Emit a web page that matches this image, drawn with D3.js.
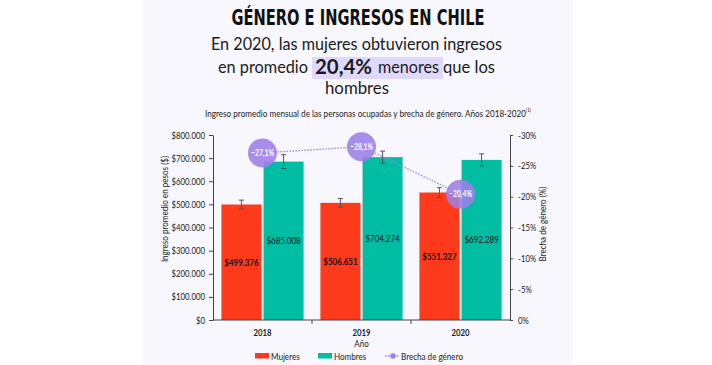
<!DOCTYPE html>
<html lang="es">
<head>
<meta charset="UTF-8">
<title>Género e ingresos en Chile</title>
<script src="https://cdnjs.cloudflare.com/ajax/libs/d3/7.8.5/d3.min.js"></script>
<style>
  body { margin: 0; background: #fff; }
  svg text { font-family: Lato, "Open Sans", sans-serif; }
</style>
</head>
<body>
<div id="chart"></div>
<script>
// data
var years = ["2018", "2019", "2020"];
var series = ["Mujeres", "Hombres"];
var mujeres = [499376, 506651, 551327];
var hombres = [685008, 704274, 692289];
var errMujeres = [19000, 19000, 21000];
var errHombres = [30000, 26000, 26000];
var brecha = [-27.1, -28.1, -20.4];
var incomeTicks = [0, 100000, 200000, 300000, 400000, 500000, 600000, 700000, 800000];
var gapTicks = [0, -5, -10, -15, -20, -25, -30];

var colors = { Mujeres: "#fe3a1c", Hombres: "#01bda3" };
var purple = "#9c7fe7";

var W = 712, H = 365;
var svg = d3.select("#chart").append("svg").attr("width", W).attr("height", H);

// squeeze text horizontally (the original uses a condensed face)
function cond(sel, k) {
  sel.each(function() {
    var w = this.getComputedTextLength();
    d3.select(this).attr("textLength", w * k).attr("lengthAdjust", "spacingAndGlyphs");
  });
}

// lavender panel
svg.append("rect").attr("x", 143).attr("y", 0).attr("width", 430).attr("height", H).attr("fill", "#f8f7fd");

// headings
svg.append("text").attr("x", 358).attr("y", 25).attr("text-anchor", "middle")
  .attr("font-size", 22).attr("font-weight", 900).attr("fill", "#111")
  .attr("textLength", 253).attr("lengthAdjust", "spacingAndGlyphs")
  .style("font-family", "'DejaVu Sans', sans-serif")
  .text("GÉNERO E INGRESOS EN CHILE");

var sub = function(x, y, t, len, bold, size) {
  return svg.append("text").attr("x", x).attr("y", y)
    .attr("font-size", size || 17).attr("font-weight", bold ? 700 : 400).attr("fill", "#1a1a1a")
    .attr("textLength", len).attr("lengthAdjust", "spacingAndGlyphs")
    .text(t);
};
sub(211, 50, "En 2020, las mujeres obtuvieron ingresos", 291);
svg.append("rect").attr("x", 312).attr("y", 57).attr("width", 131).attr("height", 22).attr("fill", "#e0d8fa");
sub(218, 73, "en promedio", 90);
sub(315, 74, "20,4%", 57, true, 21);
sub(378, 73, "menores", 61);
sub(443, 73, "que los", 52);
sub(325, 94, "hombres", 64);

var cap = svg.append("text").attr("x", 205).attr("y", 117).attr("font-size", 10).attr("fill", "#222")
  .attr("textLength", 326).attr("lengthAdjust", "spacingAndGlyphs");
cap.append("tspan").text("Ingreso promedio mensual de las personas ocupadas y brecha de género. Años 2018-2020");
cap.append("tspan").attr("font-size", 5.5).attr("dy", -5).text("(1)");

// scales
var left = 213, right = 510, plotTop = 135, bottom = 320;
var x = d3.scaleBand().domain(years).range([left, right]).padding(0);
var x1 = d3.scaleBand().domain(series).range([0, x.bandwidth()]).paddingInner(0.05).paddingOuter(0.2);
var y = d3.scaleLinear().domain([0, 800000]).range([bottom, plotTop]);
var y2 = d3.scaleLinear().domain([0, -30]).range([bottom, plotTop]);

var money = function(v) { return "$" + d3.format(",")(v).replace(/,/g, "."); };

// axes
var axL = svg.append("g").attr("transform", "translate(" + left + ",0)")
  .call(d3.axisLeft(y).tickValues(incomeTicks).tickFormat(money).tickSize(4).tickSizeOuter(0).tickPadding(4));
var axR = svg.append("g").attr("transform", "translate(" + right + ",0)")
  .call(d3.axisRight(y2).tickValues(gapTicks).tickFormat(function(d) { return d + "%"; }).tickSize(3).tickSizeOuter(0).tickPadding(5));
[axL, axR].forEach(function(a) {
  a.attr("font-family", null);
  a.selectAll("text").attr("font-size", 9.5).attr("fill", "#1a1a1a");
  a.selectAll("path, line").attr("stroke", "#444");
  cond(a.selectAll("text"), 0.82);
});

// bars
var rows = years.map(function(yr, i) {
  return [
    { year: yr, key: "Mujeres", v: mujeres[i], e: errMujeres[i] },
    { year: yr, key: "Hombres", v: hombres[i], e: errHombres[i] }
  ];
});
var groups = svg.append("g").selectAll("g").data(rows).join("g")
  .attr("transform", function(d) { return "translate(" + x(d[0].year) + ",0)"; });

groups.selectAll("rect").data(function(d) { return d; }).join("rect")
  .attr("x", function(d) { return x1(d.key); })
  .attr("y", function(d) { return y(d.v); })
  .attr("width", x1.bandwidth())
  .attr("height", function(d) { return y(0) - y(d.v); })
  .attr("fill", function(d) { return colors[d.key]; });

var vals = groups.selectAll("text.val").data(function(d) { return d; }).join("text").attr("class", "val")
  .attr("x", function(d) { return x1(d.key) + x1.bandwidth() / 2; })
  .attr("y", function(d) { return (y(d.v) + y(0)) / 2 + 3.5; })
  .attr("text-anchor", "middle").attr("font-size", 10).attr("fill", "#111")
  .attr("font-weight", function(d) { return d.key == "Mujeres" ? 700 : 400; })
  .text(function(d) { return money(d.v); });
cond(vals, 0.8);

// error bars
var eb = groups.selectAll("g.err").data(function(d) { return d; }).join("g").attr("class", "err")
  .attr("stroke", "#555").attr("stroke-width", 1);
eb.append("line")
  .attr("x1", function(d) { return x1(d.key) + x1.bandwidth() / 2; })
  .attr("x2", function(d) { return x1(d.key) + x1.bandwidth() / 2; })
  .attr("y1", function(d) { return y(d.v + d.e); })
  .attr("y2", function(d) { return y(d.v - d.e); });
[1, -1].forEach(function(s) {
  eb.append("line")
    .attr("x1", function(d) { return x1(d.key) + x1.bandwidth() / 2 - 2.5; })
    .attr("x2", function(d) { return x1(d.key) + x1.bandwidth() / 2 + 2.5; })
    .attr("y1", function(d) { return y(d.v + s * d.e); })
    .attr("y2", function(d) { return y(d.v + s * d.e); });
});

// x axis
var axX = svg.append("g").attr("transform", "translate(0," + bottom + ")");
axX.append("line").attr("x1", left).attr("x2", right).attr("stroke", "#444");
axX.selectAll("line.tk").data(years.slice(1)).join("line").attr("class", "tk")
  .attr("x1", function(d) { return x(d); }).attr("x2", function(d) { return x(d); })
  .attr("y1", 0).attr("y2", 4).attr("stroke", "#444");
var xt = axX.selectAll("text").data(years).join("text")
  .attr("x", function(d) { return x(d) + x.bandwidth() / 2; }).attr("y", 15.5)
  .attr("text-anchor", "middle").attr("font-size", 9.5).attr("font-weight", 700).attr("fill", "#222")
  .text(function(d) { return d; });
cond(xt, 0.82);

var lab = [];
lab.push(svg.append("text").attr("x", (left + right) / 2).attr("y", 347).attr("text-anchor", "middle")
  .attr("font-size", 9.5).attr("fill", "#222").text("Año"));
lab.push(svg.append("text").attr("transform", "translate(168,209) rotate(-90)").attr("text-anchor", "middle")
  .attr("font-size", 9.5).attr("fill", "#222").text("Ingreso promedio en  pesos ($)"));
lab.push(svg.append("text").attr("transform", "translate(546,224) rotate(-90)").attr("text-anchor", "middle")
  .attr("font-size", 9.5).attr("fill", "#222").text("Brecha de género (%)"));
lab.forEach(function(t) { cond(t, 0.85); });

// gap line + circles
var gap = years.map(function(yr, i) { return { year: yr, v: brecha[i] }; });
var cx = function(d) { return x(d.year) + x.bandwidth() / 2; };
svg.append("path").datum(gap)
  .attr("d", d3.line().x(cx).y(function(d) { return y2(d.v); }))
  .attr("fill", "none").attr("stroke", purple).attr("stroke-width", 1.3).attr("stroke-dasharray", "1.5,1.5");
var dots = svg.append("g").selectAll("g").data(gap).join("g");
dots.append("circle").attr("cx", cx).attr("cy", function(d) { return y2(d.v); }).attr("r", 14.5)
  .attr("fill", purple).attr("fill-opacity", 0.88);
var dl = dots.append("text").attr("x", cx).attr("y", function(d) { return y2(d.v) + 3; })
  .attr("text-anchor", "middle").attr("font-size", 8.5).attr("font-weight", 700).attr("fill", "#fff")
  .text(function(d) { return d3.format(".1f")(d.v).replace(".", ",") + "%"; });
cond(dl, 0.8);

// legend
var lg = svg.append("g").attr("font-size", 9.5).attr("fill", "#222");
lg.append("rect").attr("x", 255).attr("y", 353).attr("width", 14).attr("height", 5.5).attr("fill", colors.Mujeres);
lg.append("text").attr("x", 271).attr("y", 359.5).text("Mujeres");
lg.append("rect").attr("x", 318).attr("y", 353).attr("width", 14).attr("height", 5.5).attr("fill", colors.Hombres);
lg.append("text").attr("x", 334).attr("y", 359.5).text("Hombres");
lg.append("line").attr("x1", 385).attr("x2", 399).attr("y1", 356).attr("y2", 356)
  .attr("stroke", purple).attr("stroke-width", 1.3).attr("stroke-dasharray", "1.5,1.5");
lg.append("circle").attr("cx", 393).attr("cy", 356).attr("r", 2.8).attr("fill", purple);
lg.append("text").attr("x", 401).attr("y", 359.5).text("Brecha de género");
cond(lg.selectAll("text"), 0.85);
</script>
</body>
</html>
